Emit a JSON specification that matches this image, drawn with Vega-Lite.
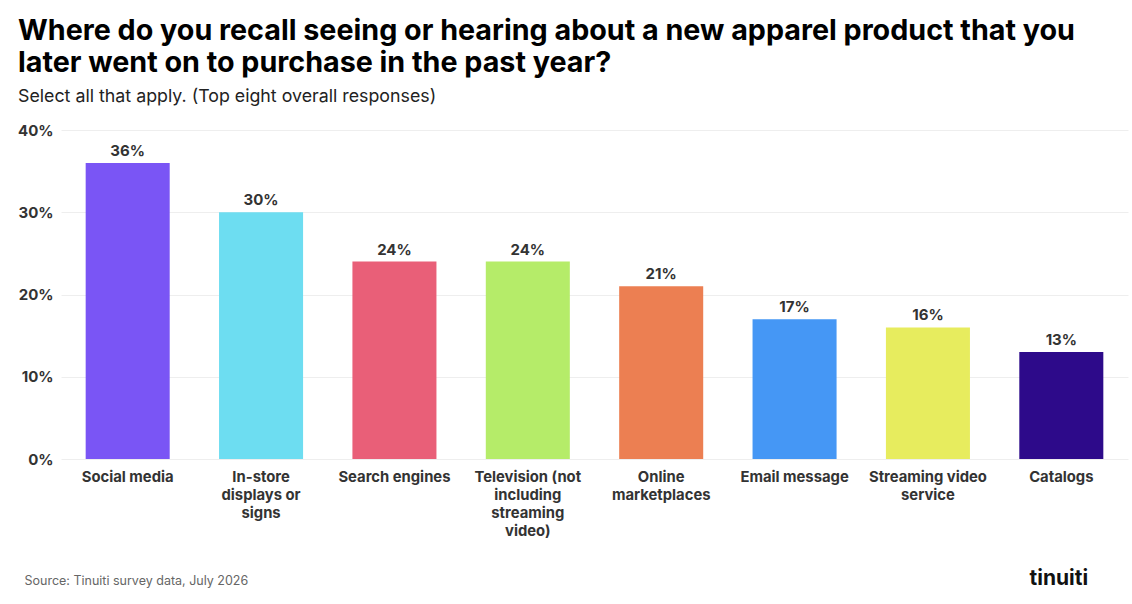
{
  "$schema": "https://vega.github.io/schema/vega-lite/v6.json",
  "width": 1067,
  "height": 329,
  "autosize": {"type": "none"},
  "padding": {"left": 61, "top": 130, "right": 4, "bottom": 145},
  "background": "white",
  "config": {
    "font": "Inter",
    "view": {"stroke": null}
  },
  "title": {
    "text": ["Where do you recall seeing or hearing about a new apparel product that you", "later went on to purchase in the past year?"],
    "subtitle": "Select all that apply. (Top eight overall responses)",
    "anchor": "start",
    "frame": "group",
    "dx": -43,
    "offset": 17,
    "font": "Inter",
    "fontSize": 28.7,
    "fontWeight": 700,
    "lineHeight": 32,
    "color": "#000000",
    "subtitleFont": "Inter",
    "subtitleFontSize": 17.8,
    "subtitleColor": "#222222",
    "subtitlePadding": 11
  },
  "data": {
    "values": [
      {"source": "Social media", "value": 36, "color": "#7A55F5"},
      {"source": "In-store displays or signs", "value": 30, "color": "#6DDDF1"},
      {"source": "Search engines", "value": 24, "color": "#E95F78"},
      {"source": "Television (not including streaming video)", "value": 24, "color": "#B5EC69"},
      {"source": "Online marketplaces", "value": 21, "color": "#EC7F52"},
      {"source": "Email message", "value": 17, "color": "#4597F5"},
      {"source": "Streaming video service", "value": 16, "color": "#E7EC5E"},
      {"source": "Catalogs", "value": 13, "color": "#2D0A8A"}
    ]
  },
  "encoding": {
    "x": {
      "field": "source",
      "type": "nominal",
      "sort": null,
      "scale": {"paddingInner": 0.37, "paddingOuter": 0.185},
      "axis": {
        "title": "Source: Tinuiti survey data, July 2026",
        "titleFont": "Inter",
        "titleFontSize": 12.5,
        "titleFontWeight": 400,
        "titleColor": "#666666",
        "titleAnchor": "start",
        "titleAlign": "left",
        "titleBaseline": "alphabetic",
        "titleX": -37,
        "titleY": 125,
        "labelAngle": 0,
        "labelFont": "Inter",
        "labelFontSize": 14.8,
        "labelFontWeight": 700,
        "labelColor": "#333333",
        "labelPadding": 10,
        "labelLineHeight": 18,
        "labelBaseline": "top",
        "labelLimit": 200,
        "domain": false,
        "ticks": false,
        "labelExpr": "datum.label == 'In-store displays or signs' ? ['In-store', 'displays or', 'signs'] : datum.label == 'Television (not including streaming video)' ? ['Television (not', 'including', 'streaming', 'video)'] : datum.label == 'Online marketplaces' ? ['Online', 'marketplaces'] : datum.label == 'Streaming video service' ? ['Streaming video', 'service'] : datum.label"
      }
    },
    "y": {
      "field": "value",
      "type": "quantitative",
      "scale": {"domain": [0, 40]},
      "axis": {
        "values": [0, 10, 20, 30, 40],
        "labelExpr": "datum.value + '%'",
        "labelFont": "Inter",
        "labelFontSize": 15,
        "labelFontWeight": 700,
        "labelColor": "#333333",
        "labelPadding": 8,
        "domain": false,
        "ticks": false,
        "grid": true,
        "gridColor": "#EEEEEE",
        "gridWidth": 1,
        "title": "tinuiti",
        "titleFont": "Inter",
        "titleFontSize": 21,
        "titleFontWeight": 700,
        "titleColor": "#111111",
        "titleAngle": 0,
        "titleAlign": "left",
        "titleBaseline": "alphabetic",
        "titleX": 968,
        "titleY": 454
      }
    }
  },
  "layer": [
    {
      "mark": {"type": "bar"},
      "encoding": {
        "color": {"field": "color", "type": "nominal", "scale": null, "legend": null}
      }
    },
    {
      "transform": [{"calculate": "datum.value + '%'", "as": "label"}],
      "mark": {"type": "text", "baseline": "bottom", "dy": -4, "font": "Inter", "fontSize": 15, "fontWeight": 700, "color": "#333333"},
      "encoding": {"text": {"field": "label", "type": "nominal"}}
    }
  ]
}
